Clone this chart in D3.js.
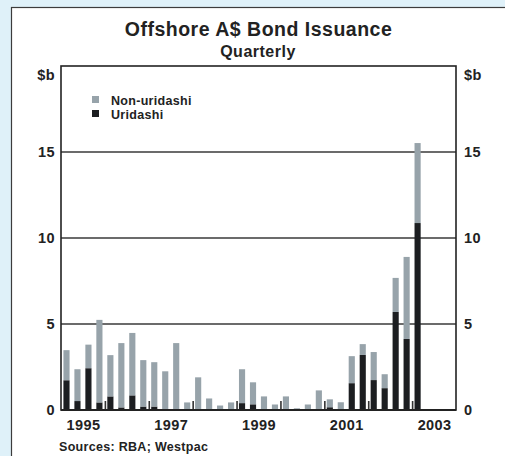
<!DOCTYPE html>
<html>
<head>
<meta charset="utf-8">
<script src="https://cdn.jsdelivr.net/npm/d3@7"></script>
<style>
  html, body { margin: 0; padding: 0; background: #dff1f9; }
  svg { display: block; }
  text { font-family: "Liberation Sans", Arial, Helvetica, sans-serif; font-weight: bold; fill: #222; }
</style>
</head>
<body>
<svg id="chart" width="505" height="456"></svg>
<script>
// Quarterly issuance, $ billion, 1995 Q1 to 2003 Q1
const startYear = 1995;
const quarters = d3.range(33).map(i => startYear + Math.floor(i / 4) + (i % 4) / 4);
const nonUridashi = [1.75, 1.85, 1.37, 4.80, 2.40, 3.74, 3.63, 2.70, 2.58, 2.25, 3.89, 0.39,
                     1.90, 0.67, 0.26, 0.44, 1.97, 1.28, 0.74, 0.27, 0.74, 0.10, 0.32, 1.09,
                     0.46, 0.45, 1.57, 0.63, 1.63, 0.81, 1.98, 4.77, 4.65];
const uridashi    = [1.73, 0.52, 2.43, 0.44, 0.79, 0.15, 0.85, 0.20, 0.20, 0.00, 0.00, 0.05,
                     0.00, 0.00, 0.00, 0.00, 0.40, 0.33, 0.05, 0.05, 0.05, 0.00, 0.00, 0.05,
                     0.16, 0.00, 1.56, 3.20, 1.74, 1.27, 5.70, 4.13, 10.87];
const yearTicks = d3.range(1996, 2004);
const yearLabels = [1995, 1997, 1999, 2001, 2003];
const yTicks = [0, 5, 10, 15];
const seriesNames = ["Non-uridashi", "Uridashi"];
const seriesColors = { "Uridashi": "#1c1e21", "Non-uridashi": "#97a3aa" };

const svg = d3.select("#chart");

// white panel with a dark border on the left and top
svg.append("rect")
  .attr("x", 11.5).attr("y", 7.5).attr("width", 520).attr("height", 470)
  .attr("fill", "#fff").attr("stroke", "#3c3c3c").attr("stroke-width", 1.2);

const plot = { left: 61, right: 456, top: 66, bottom: 410 };
const x = d3.scaleLinear().domain([1995, 2004]).range([plot.left, plot.right]);
const y = d3.scaleLinear().domain([0, 20]).range([plot.bottom, plot.top]);
const qw = x(1995.25) - x(1995);
const barW = qw * 0.56;

const labelFont = g => g.style("font-family", "'Liberation Sans', Arial, sans-serif")
  .style("font-weight", "bold").style("font-size", "14.5px")
  .style("letter-spacing", "0.4px").attr("fill", "#222");

// titles
svg.append("text").attr("x", 258.5).attr("y", 36).attr("text-anchor", "middle")
  .style("font-size", "19.5px").style("letter-spacing", "0.5px")
  .text("Offshore A$ Bond Issuance");
svg.append("text").attr("x", 258).attr("y", 57).attr("text-anchor", "middle")
  .style("font-size", "16px").style("letter-spacing", "0.5px").text("Quarterly");

svg.append("text").attr("x", 55).attr("y", 80).attr("text-anchor", "end")
  .call(labelFont).text("$b");
svg.append("text").attr("x", 464).attr("y", 80).attr("text-anchor", "start")
  .call(labelFont).text("$b");

// gridlines
svg.append("g").selectAll("line").data(yTicks.filter(d => d > 0)).join("line")
  .attr("x1", plot.left).attr("x2", plot.right)
  .attr("y1", d => y(d)).attr("y2", d => y(d))
  .attr("stroke", "#3a3a3a").attr("stroke-width", 1.6);

// stacked bars
const rows = quarters.map((q, i) => ({ q, "Uridashi": uridashi[i], "Non-uridashi": nonUridashi[i] }));
const stack = d3.stack().keys(["Uridashi", "Non-uridashi"])(rows);
svg.append("g").selectAll("g").data(stack).join("g")
  .attr("fill", s => seriesColors[s.key])
  .selectAll("rect").data(s => s).join("rect")
  .attr("x", d => x(d.data.q) + (qw - barW) / 2)
  .attr("width", barW)
  .attr("y", d => y(d[1]))
  .attr("height", d => y(d[0]) - y(d[1]));

// year boundary ticks pointing into the plot
svg.append("g").attr("transform", `translate(0,${plot.bottom})`)
  .call(d3.axisBottom(x).tickValues(yearTicks).tickSize(-9).tickFormat(""))
  .call(g => g.select(".domain").remove())
  .call(g => g.selectAll("line").attr("stroke", "#333").attr("stroke-width", 1.6));

// year labels centred in each year
svg.append("g").attr("transform", `translate(0,${plot.bottom})`)
  .call(d3.axisBottom(x).tickValues(yearLabels.map(d => d + 0.5)).tickSize(0)
    .tickFormat(d => String(Math.floor(d))).tickPadding(10))
  .call(g => g.select(".domain").remove())
  .call(g => g.selectAll("text").call(labelFont));

// left and right value axes
const yAxisStyle = g => {
  g.select(".domain").remove();
  g.selectAll("line").remove();
  g.selectAll("text").call(labelFont);
};
svg.append("g").attr("transform", `translate(${plot.left},0)`)
  .call(d3.axisLeft(y).tickValues(yTicks).tickSize(0).tickPadding(6)).call(yAxisStyle);
svg.append("g").attr("transform", `translate(${plot.right},0)`)
  .call(d3.axisRight(y).tickValues(yTicks).tickSize(0).tickPadding(8)).call(yAxisStyle);

// plot frame and zero line
svg.append("rect")
  .attr("x", plot.left).attr("y", plot.top)
  .attr("width", plot.right - plot.left).attr("height", plot.bottom - plot.top)
  .attr("fill", "none").attr("stroke", "#222").attr("stroke-width", 1.6);
svg.append("line").attr("x1", plot.left).attr("x2", plot.right)
  .attr("y1", y(0)).attr("y2", y(0)).attr("stroke", "#222").attr("stroke-width", 2);

// legend
const legend = svg.append("g").attr("transform", "translate(92,96)");
seriesNames.forEach((name, i) => {
  const row = legend.append("g").attr("transform", `translate(0,${i * 14})`);
  row.append("rect").attr("width", 7).attr("height", 7).attr("fill", seriesColors[name]);
  row.append("text").attr("x", 19).attr("y", 8.5)
    .style("font-size", "12.5px").style("letter-spacing", "0.3px").text(name);
});

// source note
svg.append("text").attr("x", 59).attr("y", 451)
  .style("font-size", "12.5px").style("letter-spacing", "0.3px")
  .text("Sources: RBA; Westpac");
</script>
</body>
</html>
